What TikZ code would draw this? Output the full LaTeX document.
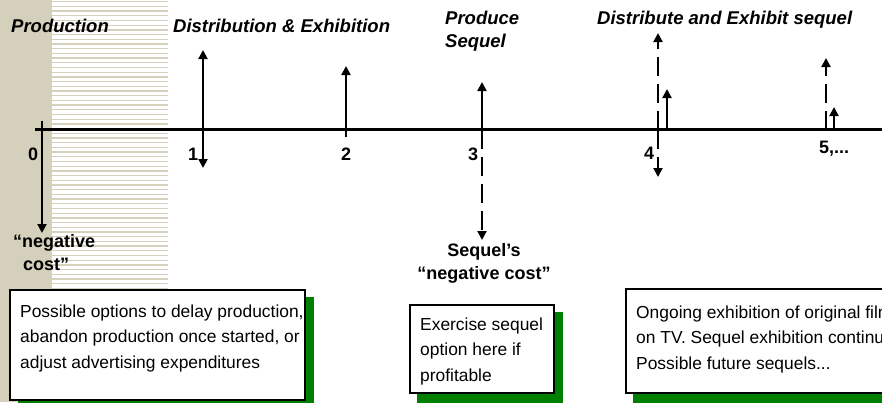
\documentclass[tikz,border=0pt]{standalone}
\usepackage{fontspec}
\setmainfont{Liberation Sans}
\usetikzlibrary{arrows.meta}
\definecolor{tan}{RGB}{213,208,187}
\definecolor{shadowgreen}{RGB}{0,128,0}
\begin{document}
\begin{tikzpicture}[x=1pt,y=-1pt,
  title/.style={font=\fontsize{18.5}{23}\selectfont\bfseries\itshape, inner sep=0},
  lbl/.style={font=\fontsize{18}{23}\selectfont\bfseries, inner sep=0},
  boxtext/.style={font=\fontsize{17.4}{25.5}\selectfont, inner sep=0, anchor=north west, align=left},
  flow/.style={line width=2pt, -{Triangle[width=9pt,length=9pt]}},
  dflow/.style={flow, dash pattern=on 19pt off 8pt},
  optbox/.style={draw=black, line width=1.2pt, fill=white},
  shadowbox/.style={fill=shadowgreen}]

\useasboundingbox (0,0) rectangle (882,402);
\clip (0,0) rectangle (882,402);

% background band
\fill[tan] (0,0) rectangle (52,402);
\foreach \i in {0,...,61} \fill[tan] (52,{1+\i*4.7}) rectangle (168,{2.3+\i*4.7});

% axis
\coordinate (axL) at (35,129.5);
\coordinate (axR) at (882,129.5);
\draw[line width=2.5pt] (axL) -- (axR);

% time points
\coordinate (t0) at (42,121);   \coordinate (t0d) at (42,233);
\coordinate (t1) at (203,129.5); \coordinate (t1u) at (203,50); \coordinate (t1d) at (203,168);
\coordinate (t2) at (346,137);  \coordinate (t2u) at (346,66);
\coordinate (t3) at (482,129.5); \coordinate (t3u) at (482,82); \coordinate (t3d) at (482,240);
\coordinate (t4) at (658,129.5); \coordinate (t4u) at (658,33); \coordinate (t4d) at (658,177);
\coordinate (t4b) at (667,129.5); \coordinate (t4bu) at (667,89);
\coordinate (t5) at (826,129.5); \coordinate (t5u) at (826,58);
\coordinate (t5b) at (834,129.5); \coordinate (t5bu) at (834,107);

\draw[flow] (t0) -- (t0d);
\draw[flow] (t1) -- (t1u);
\draw[flow] (t1) -- (t1d);
\draw[flow] (t2) -- (t2u);
\draw[flow] (t3) -- (t3u);
\draw[dflow] (t3) -- (t3d);
\draw[dflow] (t4) -- (t4u);
\draw[dflow] (t4) -- (t4d);
\draw[flow] (t4b) -- (t4bu);
\draw[dflow] (t5) -- (t5u);
\draw[flow] (t5b) -- (t5bu);

% axis labels
\node[lbl, anchor=base west] (l0) at (28,160) {0};
\node[lbl, anchor=base west] (l1) at (188,160) {1};
\node[lbl, anchor=base west] (l2) at (341,160) {2};
\node[lbl, anchor=base west] (l3) at (468,160) {3};
\node[lbl, anchor=base west] (l4) at (644,159) {4};
\node[lbl, anchor=base west] (l5) at (819,153) {5,...};

% titles
\node[title, anchor=base west] (tProd) at (11,32) {Production};
\node[title, anchor=base west] (tDist) at (173,32) {Distribution \& Exhibition};
\node[title, anchor=north west, align=left] (tSeq) at (445,11) {Produce\\Sequel};
\node[title, anchor=base west] (tDSeq) at (597,24) {Distribute and Exhibit sequel};

% cost labels
\node[lbl, anchor=north west, align=left] (negc) at (13,234) {“negative\\\hspace{10pt}cost”};
\node[lbl, anchor=north, align=center] (seqc) at (484,243) {Sequel’s\\“negative cost”};

% option boxes
\fill[shadowbox] (18,297) rectangle (314,410);
\draw[optbox] (10,290) rectangle (305,400);
\node[boxtext] (b1) at (20,304.5) {Possible options to delay production,\\abandon production once started, or\\adjust advertising expenditures};

\fill[shadowbox] (417,312) rectangle (563,410);
\draw[optbox] (410,305) rectangle (554,393);
\node[boxtext] (b2) at (420,317.5) {Exercise sequel\\option here if\\profitable};

\fill[shadowbox] (633,296) rectangle (900,410);
\draw[optbox] (626,289) rectangle (900,393);
\node[boxtext] (b3) at (636,305.5) {Ongoing exhibition of original film\\on TV. Sequel exhibition continues.\\Possible future sequels...};
\end{tikzpicture}
\end{document}
